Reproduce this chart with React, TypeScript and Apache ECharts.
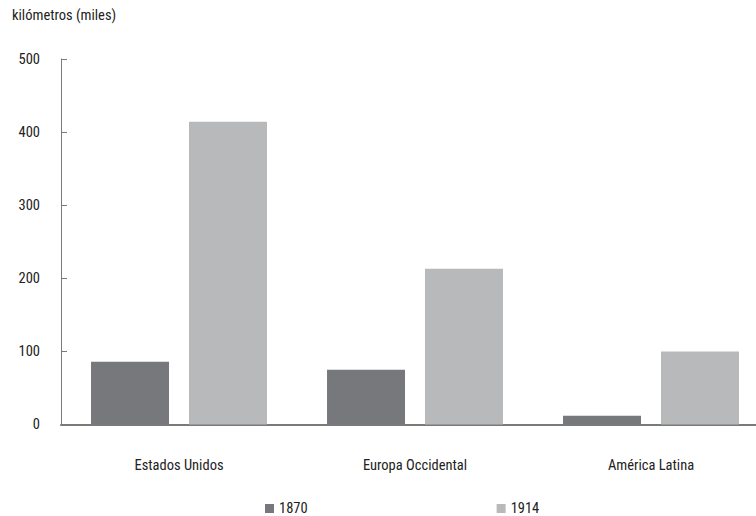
import React, { useEffect, useRef } from "react";
import * as echarts from "echarts";

const categories = ["Estados Unidos", "Europa Occidental", "América Latina"];
const values1870 = [86, 75, 12];
const values1914 = [414, 213, 100];
const seriesNames = ["1870", "1914"];
const yTitle = "kilómetros (miles)";

const FONT = "'Roboto Condensed', 'Arial Narrow', sans-serif";

export default function App() {
  const ref = useRef<HTMLDivElement>(null);
  useEffect(() => {
    const chart = echarts.init(ref.current!, null, { renderer: "svg" });
    chart.setOption({
      animation: false,
      backgroundColor: "#ffffff",
      textStyle: { fontFamily: FONT, color: "#222" },
      title: {
        text: yTitle,
        left: 12,
        top: 8,
        padding: 0,
        textStyle: { fontFamily: FONT, fontSize: 14.5, fontWeight: "normal", color: "#222" },
      },
      legend: {
        data: seriesNames,
        left: 265,
        top: 501,
        padding: 0,
        itemWidth: 9,
        itemHeight: 9,
        itemGap: 189,
        icon: "rect",
        textStyle: { fontFamily: FONT, fontSize: 14.5, color: "#222" },
      },
      grid: { left: 61, top: 59, width: 708, height: 365.5, containLabel: false },
      xAxis: {
        type: "category",
        data: categories,
        axisLine: { lineStyle: { color: "#7a7a7a", width: 2 } },
        axisTick: { show: false },
        axisLabel: { margin: 33, fontFamily: FONT, fontSize: 14.5, color: "#222" },
      },
      yAxis: {
        type: "value",
        min: 0,
        max: 500,
        interval: 100,
        splitLine: { show: false },
        axisLine: { show: true, lineStyle: { color: "#7a7a7a", width: 1 } },
        axisTick: { show: true, inside: true, length: 6, lineStyle: { color: "#7a7a7a" } },
        axisLabel: { margin: 21, fontFamily: FONT, fontSize: 14.5, color: "#222" },
      },
      series: [
        {
          name: seriesNames[0],
          type: "bar",
          data: values1870,
          barWidth: 78,
          barGap: "25.6%",
          itemStyle: { color: "#77787b" },
        },
        {
          name: seriesNames[1],
          type: "bar",
          data: values1914,
          barWidth: 78,
          barGap: "25.6%",
          itemStyle: { color: "#b8b9bb" },
        },
      ],
    });
    return () => chart.dispose();
  }, []);
  return (
    <div style={{ width: 756, height: 516, position: "absolute", left: 0, top: 0, overflow: "hidden", background: "#fff" }}>
      <div ref={ref} style={{ width: 780, height: 516 }} />
    </div>
  );
}
